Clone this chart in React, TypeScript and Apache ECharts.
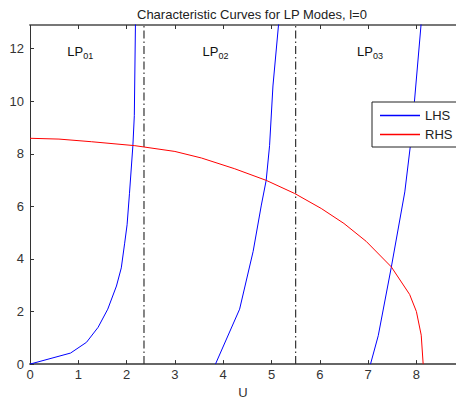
import React, { useEffect, useRef } from "react";
import * as echarts from "echarts";

const title = "Characteristic Curves for LP Modes, l=0";
const xName = "U";
const xTicks = [0, 1, 2, 3, 4, 5, 6, 7, 8];
const yTicks = [0, 2, 4, 6, 8, 10, 12];

const lhs1: [number, number][] = [
  [0, 0], [0.84, 0.42], [1.17, 0.83], [1.41, 1.4], [1.61, 2.09], [1.79, 2.97],
  [1.89, 3.66], [1.96, 4.6], [2.01, 5.3], [2.06, 6.5], [2.13, 8.31], [2.16, 9.45],
  [2.185, 13.2],
];
const lhs2: [number, number][] = [
  [3.84, 0], [4.34, 2.09], [4.62, 4.29], [4.79, 6.05], [4.89, 6.99], [4.96, 8.31],
  [5.03, 10.58], [5.16, 13.2],
];
const lhs3: [number, number][] = [
  [7.05, 0], [7.21, 1.08], [7.48, 3.68], [7.76, 6.55], [7.88, 8.38], [7.96, 10.0],
  [8.11, 13.2],
];
const rhs: [number, number][] = [
  [0, 8.59], [0.6, 8.56], [1.27, 8.46], [2.17, 8.31], [3.0, 8.09], [3.55, 7.84],
  [4.24, 7.43], [4.89, 6.99], [5.48, 6.49], [6.03, 5.92], [6.5, 5.35], [6.96, 4.67],
  [7.48, 3.7], [7.86, 2.65], [8.0, 2.0], [8.1, 1.1], [8.14, 0],
];
const cutoffs = [2.36, 5.5];
const modeLabels = [
  { sub: "01", x: 1.0 },
  { sub: "02", x: 3.8 },
  { sub: "03", x: 7.0 },
];

const FONT = "Liberation Sans, Arial, sans-serif";

export default function App() {
  const ref = useRef<HTMLDivElement>(null);
  useEffect(() => {
    if (!ref.current) return;
    const chart = echarts.init(ref.current, undefined, { renderer: "svg" });
    const yMax = 12.9;
    const xMax = 8.82;
    const gridLeft = 30;
    const gridTop = 25;
    const gridWidth = 426;
    const gridHeight = 342;
    const px = (v: number) => gridLeft + (v / xMax) * gridWidth;
    const lineSeries = (name: string, data: [number, number][], color: string) => ({
      type: "line",
      name,
      data,
      symbol: "none",
      clip: true,
      lineStyle: { color, width: 1 },
      itemStyle: { color },
      silent: true,
    });
    const cutoffSeries = cutoffs.map((c) => ({
      type: "line",
      name: "cutoff" + c,
      data: [[c, 0], [c, yMax]],
      symbol: "none",
      lineStyle: { color: "#333", width: 1.2, type: [8, 3, 1.5, 3] },
      silent: true,
    }));
    const labelFmt = (v: number) => (xTicks.includes(v) ? String(v) : "");
    chart.setOption({
      animation: false,
      textStyle: { fontFamily: FONT },
      title: {
        text: title,
        left: 132,
        top: 3,
        textStyle: { fontSize: 13, fontWeight: "normal", color: "#222", fontFamily: FONT },
      },
      grid: { left: gridLeft, top: gridTop, width: gridWidth, height: gridHeight, containLabel: false },
      legend: {
        data: ["LHS", "RHS"],
        orient: "vertical",
        left: 372,
        top: 102,
        padding: [6, 30, 5, 8],
        icon: "rect",
        itemWidth: 40,
        itemHeight: 1.3,
        itemGap: 4,
        backgroundColor: "#fff",
        borderColor: "#222",
        borderWidth: 1,
        borderRadius: 0,
        textStyle: { fontSize: 13, color: "#222", fontFamily: FONT, lineHeight: 15 },
      },
      xAxis: [
        {
          type: "value",
          min: 0,
          max: xMax,
          interval: 1,
          name: xName,
          nameLocation: "middle",
          nameGap: 20,
          nameTextStyle: { fontSize: 13, color: "#333", fontFamily: FONT },
          axisLine: { show: true, onZero: false, lineStyle: { color: "#666", width: 2 } },
          axisTick: { show: true, inside: true, length: 4, lineStyle: { color: "#333" } },
          axisLabel: { fontSize: 13, color: "#333", margin: 4, fontFamily: FONT, showMaxLabel: false, formatter: labelFmt },
          splitLine: { show: false },
        },
        {
          type: "value",
          position: "top",
          min: 0,
          max: xMax,
          interval: 1,
          axisLine: { show: true, onZero: false, lineStyle: { color: "#777", width: 2 } },
          axisTick: { show: true, inside: true, length: 4, lineStyle: { color: "#333" } },
          axisLabel: { show: false },
          splitLine: { show: false },
        },
      ],
      yAxis: {
        type: "value",
        min: yTicks[0],
        max: yMax,
        interval: 2,
        axisLine: { show: true, onZero: false, lineStyle: { color: "#333", width: 1 } },
        axisTick: { show: true, inside: true, length: 4, lineStyle: { color: "#333" } },
        axisLabel: {
          fontSize: 13,
          color: "#333",
          margin: 6,
          fontFamily: FONT,
          showMaxLabel: false,
          formatter: (v: number) => (yTicks.includes(v) ? String(v) : ""),
        },
        splitLine: { show: false },
      },
      graphic: modeLabels.map((m) => ({
        type: "text",
        left: px(m.x) - 11,
        top: 45,
        style: {
          text: "{a|LP}{b|" + m.sub + "}",
          rich: {
            a: { fontSize: 13, fontFamily: FONT, fill: "#111", verticalAlign: "bottom" },
            b: { fontSize: 9, fontFamily: FONT, fill: "#111", verticalAlign: "bottom", padding: [0, 0, -2, 0] },
          },
        },
      })),
      series: [
        ...cutoffSeries,
        lineSeries("LHS", lhs1, "#0000ff"),
        lineSeries("LHS", lhs2, "#0000ff"),
        lineSeries("LHS", lhs3, "#0000ff"),
        lineSeries("RHS", rhs, "#ff0000"),
      ],
    });
    return () => chart.dispose();
  }, []);
  return (
    <div
      ref={ref}
      style={{ position: "fixed", left: 0, top: 0, width: 456, height: 404, background: "#fff", overflow: "hidden" }}
    />
  );
}
